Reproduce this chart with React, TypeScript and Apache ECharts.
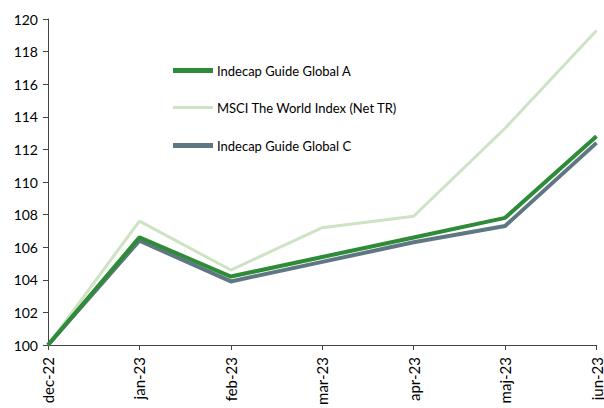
import React, { useEffect, useRef } from "react";
import * as echarts from "echarts";

const categories = ["dec-22", "jan-23", "feb-23", "mar-23", "apr-23", "maj-23", "jun-23"];
const seriesA = [100, 106.6, 104.2, 105.4, 106.6, 107.8, 112.8];
const seriesMSCI = [100, 107.6, 104.6, 107.2, 107.9, 113.3, 119.3];
const seriesC = [100, 106.4, 103.9, 105.1, 106.3, 107.3, 112.4];
const names = ["Indecap Guide Global A", "MSCI The World Index (Net TR)", "Indecap Guide Global C"];
const colors = ["#2E8B37", "#CDE3C3", "#5F7783"];
const widths = [4, 3, 4];

export default function App() {
  const ref = useRef<HTMLDivElement>(null);
  useEffect(() => {
    if (!ref.current) return;
    const chart = echarts.init(ref.current, null, { renderer: "svg" });
    const font = "Lato";
    const legendTops = [64, 100, 139];
    const legendHeights = [5, 3, 5];
    chart.setOption({
      animation: false,
      textStyle: { fontFamily: font },
      grid: { left: 48, right: 2, top: 19, bottom: 63, containLabel: false },
      legend: names.map((n, i) => ({
        data: [{ name: n, icon: "rect" }],
        left: 173,
        top: legendTops[i] + (5 - legendHeights[i]) / 2,
        itemWidth: 40,
        itemHeight: legendHeights[i],
        itemGap: 0,
        selectedMode: false,
        padding: 0,
        textStyle: { fontFamily: font, fontSize: 13, color: "#000", padding: [0, 0, 0, -1] },
      })),
      xAxis: {
        type: "category",
        data: categories,
        boundaryGap: false,
        axisLine: { lineStyle: { color: "#444", width: 1 } },
        axisTick: { alignWithLabel: true, length: 5, lineStyle: { color: "#444" } },
        axisLabel: { rotate: 90, fontSize: 15, color: "#000", margin: 12, fontFamily: font, interval: 0 },
      },
      yAxis: {
        type: "value",
        min: 100,
        max: 120,
        interval: 2,
        splitLine: { show: false },
        axisLine: { show: true, lineStyle: { color: "#444", width: 1 } },
        axisTick: { show: true, length: 5, lineStyle: { color: "#444" } },
        axisLabel: { fontSize: 14, color: "#000", margin: 10, fontFamily: font },
      },
      series: [seriesA, seriesMSCI, seriesC].map((d, i) => ({
        name: names[i],
        type: "line",
        data: d,
        symbol: "none",
        z: i === 0 ? 4 : i === 2 ? 3 : 2,
        lineStyle: { color: colors[i], width: widths[i] },
        itemStyle: { color: colors[i] },
      })),
    });
    return () => chart.dispose();
  }, []);
  return <div ref={ref} style={{ width: 604, height: 408, position: "absolute", left: 0, top: 0 }} />;
}
